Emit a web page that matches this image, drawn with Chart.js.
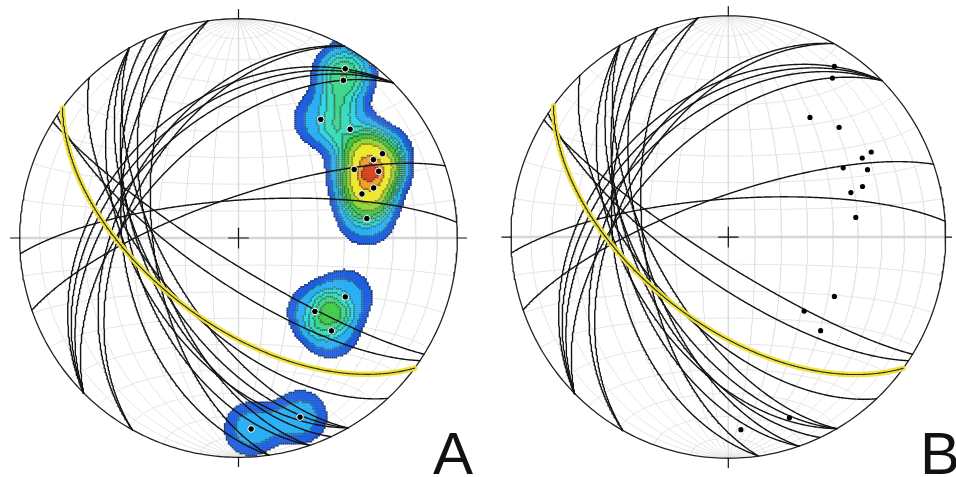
<!DOCTYPE html>
<html><head><meta charset="utf-8">
<script src="https://cdn.jsdelivr.net/npm/chart.js@4"></script>
<style>
html,body{margin:0;padding:0;background:#fff;width:956px;height:477px;overflow:hidden}
body{position:relative}
canvas{position:absolute;top:0}
#cA{left:0}
#cB{left:478px}
.lab{position:absolute;font-family:"Liberation Sans",Arial,sans-serif;font-size:60px;line-height:60px;color:#111}
</style></head><body>
<canvas id="cA" width="478" height="477"></canvas>
<canvas id="cB" width="478" height="477"></canvas>
<div class="lab" style="left:433px;top:424px">A</div>
<div class="lab" style="left:920px;top:424px">B</div>
<script>
// ---------- data ----------
// planes (right-hand-rule strike, dip), drawn as great circles
const planeStrike = [122, 124, 137, 150, 150, 150, 155, 161, 161, 172, 172, 225, 225, 225, 225, 209, 209, 250.8, 265.9];
const planeDip    = [ 81,  73,  58,  62,  56,  50,  54,  58,  50,  58,  46,  38, 41.5, 45.5, 53, 44.5, 48,  75,    76];
// highlighted (yellow) plane
const meanStrike = [126.4];
const meanDip    = [57.5];
// lineations / poles (trend, plunge)
const poleTrend  = [32.3, 33.7, 34.8, 45.8, 59.9, 59.7, 59.4, 64.6, 69.7, 70.4, 81.4, 118.8, 133.8, 134.9, 176.2, 161.0];
const polePlunge = [ 9.6, 14.7, 34.5, 29.6, 29.5, 24.8, 38.5, 29.8, 34.5, 39.9, 40.4,  43.6,  50.0,  39.8,  13.8,  14.7];
// density contour levels and fills (panel A)
const contourLevels = [0.45, 0.8, 1.2, 1.45, 1.7, 1.95, 2.35, 2.9, 3.9, 4.45];
const contourColors = ['#1f5fe0','#2aaff5','#30d6e8','#36dcbc','#3cd68c','#3ccb46','#8fd83a','#ece92e','#f0a02a','#d8401e'];
const netStepDeg = [10];

// ---------- projection (equal-area, lower hemisphere) ----------
const D2R = Math.PI/180;
function vecTP(t, p){ t*=D2R; p*=D2R; return [Math.cos(p)*Math.cos(t), Math.cos(p)*Math.sin(t), Math.sin(p)]; }
function proj(v){ let n=v[0], e=v[1], d=v[2]; if(d<0){n=-n;e=-e;d=-d;} const k=1/Math.sqrt(1+d); return {x:e*k, y:n*k}; }
function greatCircle(strike, dip){
  const s=strike*D2R, dd=(strike+90)*D2R, dp=dip*D2R;
  const sv=[Math.cos(s),Math.sin(s),0], av=[Math.cos(dp)*Math.cos(dd),Math.cos(dp)*Math.sin(dd),Math.sin(dp)];
  const pts=[];
  for(let a=0;a<=180;a+=0.5){ const f=a*D2R, c=Math.cos(f), sn=Math.sin(f);
    pts.push(proj([sv[0]*c+av[0]*sn, sv[1]*c+av[1]*sn, sv[2]*c+av[2]*sn])); }
  return pts;
}
function smallCircleN(alpha){
  const a=alpha*D2R, pts=[];
  for(let p=0;p<=180;p+=1){ const ps=p*D2R; pts.push(proj([Math.cos(a), Math.sin(a)*Math.cos(ps), Math.sin(a)*Math.sin(ps)])); }
  return pts;
}
function primitive(){ const pts=[]; for(let a=0;a<=360;a+=1){ pts.push({x:Math.sin(a*D2R), y:Math.cos(a*D2R)}); } return pts; }

function line(pts, color, w, order){
  return {data:pts, showLine:true, borderColor:color, backgroundColor:color, borderWidth:w, pointRadius:0, pointHoverRadius:0, fill:false, tension:0, order:order, borderCapStyle:'round', borderJoinStyle:'round'};
}
function mix(hex, f){
  const n=parseInt(hex.slice(1),16); const r=(n>>16)&255, g=(n>>8)&255, b=n&255;
  return 'rgb('+Math.round(r*(1-f))+','+Math.round(g*(1-f))+','+Math.round(b*(1-f))+')';
}

const polePts = poleTrend.map((t,i)=>proj(vecTP(t, polePlunge[i])));

// density of the projected points, evaluated on a coarse counting grid (pixel units)
function contourDatasets(rx, ry){
  const SIG=30, G=9;
  const P=polePts.map(p=>[p.x*rx, -p.y*ry]);
  function dens(px,py){ let s=0; for(const p of P){ const dx=(px-p[0])/SIG, dy=(py-p[1])/SIG; const d=Math.sqrt(dx*dx+dy*dy); s+=Math.exp(-d*d*d); } return s; }
  const NG=Math.ceil(rx/G)+2, WG=2*NG+1, grid=new Float64Array(WG*WG);
  for(let j=0;j<WG;j++) for(let i=0;i<WG;i++) grid[j*WG+i]=dens((i-NG)*G,(j-NG)*G);
  function interp(px,py){
    const fx=px/G+NG, fy=py/G+NG, i=Math.floor(fx), j=Math.floor(fy), u=fx-i, v=fy-j;
    return grid[j*WG+i]*(1-u)*(1-v)+grid[j*WG+i+1]*u*(1-v)+grid[(j+1)*WG+i]*(1-u)*v+grid[(j+1)*WG+i+1]*u*v;
  }
  const step=2, n=Math.ceil(rx/step)+1, W=2*n+1, L=new Int8Array(W*W);
  for(let j=0;j<W;j++) for(let i=0;i<W;i++){
    const px=(i-n)*step, py=(j-n)*step, x=px/rx, y=py/ry;
    let lev=0;
    if(x*x+y*y<=1){ const f=interp(px,py); for(let q=0;q<contourLevels.length;q++) if(f>=contourLevels[q]) lev=q+1; }
    L[j*W+i]=lev;
  }
  const fills=contourLevels.map(()=>[]), edges=contourLevels.map(()=>[]);
  for(let j=1;j<W-1;j++) for(let i=1;i<W-1;i++){
    const lev=L[j*W+i]; if(!lev) continue;
    const pt={x:(i-n)*step/rx, y:-(j-n)*step/ry};
    const nb=Math.min(L[j*W+i-1],L[j*W+i+1],L[(j-1)*W+i],L[(j+1)*W+i]);
    if(nb<lev) edges[lev-1].push(pt); else fills[lev-1].push(pt);
  }
  const ds=[], rad=(step+0.4)/Math.SQRT2;
  contourColors.forEach((c,q)=>{
    ds.push({data:fills[q], pointStyle:'rect', pointRadius:rad, pointHoverRadius:rad, pointBorderWidth:0, pointBackgroundColor:c, backgroundColor:c, borderColor:c, showLine:false, order:80});
    const ec=mix(c,0.4);
    ds.push({data:edges[q], pointStyle:'rect', pointRadius:rad*0.8, pointHoverRadius:rad, pointBorderWidth:0, pointBackgroundColor:ec, backgroundColor:ec, borderColor:ec, showLine:false, order:79});
  });
  return ds;
}

function buildChart(id, cx, cy, rx, ry, withContours){
  const ds=[];
  const grid='#e4e4e4';
  const st=netStepDeg[0];
  for(let dip=st; dip<90; dip+=st){ ds.push(line(greatCircle(0,dip),grid,1,100)); ds.push(line(greatCircle(180,dip),grid,1,100)); }
  for(let a=st; a<180; a+=st){ if(a!==90) ds.push(line(smallCircleN(a),grid,1,100)); }
  ds.push(line([{x:-1,y:0},{x:1,y:0}],'#d6d6d6',2.5,95));
  ds.push(line([{x:0,y:-1},{x:0,y:1}],'#dcdcdc',1.5,95));
  if(withContours) contourDatasets(rx, ry).forEach(d=>ds.push(d));
  ds.push(line(primitive(),'#222',1.3,70));
  planeStrike.forEach((s,i)=>ds.push(line(greatCircle(s,planeDip[i]),'#141414',1.4,60)));
  meanStrike.forEach((s,i)=>{ ds.push(line(greatCircle(s,meanDip[i]),'rgba(238,226,60,0.95)',5.5,55)); ds.push(line(greatCircle(s,meanDip[i]),'#2a2a10',1.1,54)); });
  ds.push({data:polePts, showLine:false, pointRadius: withContours?3.3:2.6, pointBackgroundColor:'#000', pointBorderColor:'#fff', pointBorderWidth: withContours?1:0, order:10});
  const c=0.045, t=0.042;
  ds.push(line([{x:-c,y:0},{x:c,y:0}],'#111',1.2,5));
  ds.push(line([{x:0,y:-c},{x:0,y:c}],'#111',1.2,5));
  ds.push(line([{x:0,y:1},{x:0,y:1+t}],'#111',1.2,5));
  ds.push(line([{x:0,y:-1},{x:0,y:-1-t}],'#111',1.2,5));
  ds.push(line([{x:1,y:0},{x:1+t,y:0}],'#111',1.2,5));
  ds.push(line([{x:-1,y:0},{x:-1-t,y:0}],'#111',1.2,5));
  const W=478, H=477;
  new Chart(document.getElementById(id), {
    type:'scatter',
    data:{datasets:ds},
    options:{responsive:false, animation:false, events:[], layout:{padding:0},
      plugins:{legend:{display:false}, tooltip:{enabled:false}, title:{display:false}},
      scales:{x:{type:'linear', display:false, min:-cx/rx, max:(W-cx)/rx},
              y:{type:'linear', display:false, min:-(H-cy)/ry, max:cy/ry}}}
  });
}
buildChart('cA', 238.5, 238, 223.5, 224, true);
buildChart('cB', 250.5, 237, 221, 225, false);
</script>
</body></html>
